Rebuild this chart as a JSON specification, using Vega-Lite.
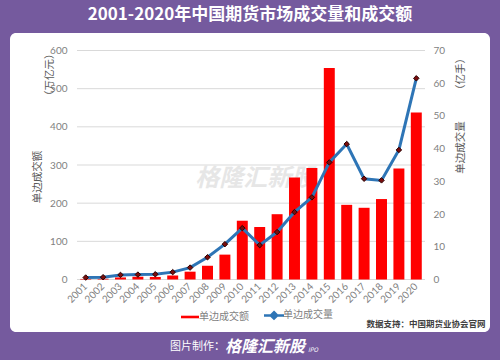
{
  "$schema": "https://vega.github.io/schema/vega-lite/v6.json",
  "width": 480,
  "height": 299,
  "autosize": {"type": "none"},
  "padding": {"left": 10, "top": 33, "right": 10, "bottom": 28},
  "background": "#755a9e",
  "view": {"fill": "#ffffff", "stroke": null, "cornerRadius": 6},
  "title": {
    "text": "2001-2020年中国期货市场成交量和成交额",
    "fontSize": 17,
    "fontWeight": "bold",
    "color": "#ffffff",
    "font": "Noto Sans CJK SC",
    "anchor": "middle",
    "offset": 9
  },
  "config": {
    "font": "Noto Sans CJK SC",
    "axis": {"labelFont": "Lato", "labelColor": "#7f7f7f", "labelFontSize": 10, "ticks": false, "domain": false, "grid": false}
  },
  "data": {
    "values": [
      {"year": "2001", "amount": 1.5, "volume": 0.6},
      {"year": "2002", "amount": 2.0, "volume": 0.7},
      {"year": "2003", "amount": 5.4, "volume": 1.4},
      {"year": "2004", "amount": 7.3, "volume": 1.5},
      {"year": "2005", "amount": 6.7, "volume": 1.6},
      {"year": "2006", "amount": 10.5, "volume": 2.25},
      {"year": "2007", "amount": 20.5, "volume": 3.64},
      {"year": "2008", "amount": 36.0, "volume": 6.8},
      {"year": "2009", "amount": 65.2, "volume": 10.8},
      {"year": "2010", "amount": 154.0, "volume": 15.7},
      {"year": "2011", "amount": 137.5, "volume": 10.5},
      {"year": "2012", "amount": 171.1, "volume": 14.5},
      {"year": "2013", "amount": 267.5, "volume": 20.6},
      {"year": "2014", "amount": 292.0, "volume": 25.1},
      {"year": "2015", "amount": 554.2, "volume": 35.8},
      {"year": "2016", "amount": 195.6, "volume": 41.4},
      {"year": "2017", "amount": 187.9, "volume": 30.8},
      {"year": "2018", "amount": 210.8, "volume": 30.3},
      {"year": "2019", "amount": 290.6, "volume": 39.6},
      {"year": "2020", "amount": 437.5, "volume": 61.5}
    ]
  },
  "layer": [
    {
      "layer": [
        {
          "data": {"values": [{"gridValue": 0}, {"gridValue": 100}, {"gridValue": 200}, {"gridValue": 300}, {"gridValue": 400}, {"gridValue": 500}, {"gridValue": 600}]},
          "mark": {"type": "rule", "color": "#d9d9d9", "strokeWidth": 1},
          "encoding": {
            "y": {"field": "gridValue", "type": "quantitative", "scale": {"domain": [-137.55, 645.85], "nice": false, "zero": false}},
            "x": {"datum": "2001", "type": "nominal", "bandPosition": -0.294, "scale": {"type": "band", "range": [67, 415], "paddingInner": 0.37, "paddingOuter": 0.185}},
            "x2": {"datum": "2020", "bandPosition": 1.294}
          }
        },
        {
          "data": {"values": [{}]},
          "mark": {"type": "text", "text": "格隆汇新股", "fontSize": 24, "fontWeight": "bold", "fontStyle": "italic", "color": "#e6e6e6", "align": "center", "baseline": "middle"},
          "encoding": {
            "x": {"datum": "2011", "type": "nominal", "bandPosition": 0.1, "scale": {"type": "band", "range": [67, 415], "paddingInner": 0.37, "paddingOuter": 0.185}},
            "y": {"datum": 263, "type": "quantitative", "scale": {"domain": [-137.55, 645.85], "nice": false, "zero": false}}
          }
        },
        {
          "mark": {"type": "bar"},
          "encoding": {
            "x": {
              "field": "year",
              "type": "nominal",
              "scale": {"type": "band", "range": [67, 415], "paddingInner": 0.37, "paddingOuter": 0.185},
              "axis": {
                "offset": -52.5,
                "labelAngle": -45,
                "labelAlign": "right",
                "labelBaseline": "middle",
                "labelPadding": 5,
                "title": "数据支持：中国期货业协会官网",
                "titleFontSize": 8.5,
                "titleFontWeight": "bold",
                "titleColor": "#404040",
                "titleX": 475,
                "titleY": 43.5,
                "titleAlign": "right",
                "titleBaseline": "middle"
              }
            },
            "y": {
              "field": "amount",
              "type": "quantitative",
              "scale": {"domain": [-137.55, 645.85], "nice": false, "zero": false},
              "axis": {
                "orient": "left",
                "offset": -66,
                "values": [0, 100, 200, 300, 400, 500, 600],
                "labelPadding": 9,
                "title": ["单边成交额　　　　　　　　　　​", "​　　　　　　　　　　（万亿元）"],
                "titleFontSize": 10.5,
                "titleFontWeight": "normal",
                "titleColor": "#595959",
                "titleLineHeight": 11.5,
                "titleAngle": -90,
                "titleX": -38.5,
                "titleY": 91,
                "titleAlign": "center",
                "titleBaseline": "middle"
              }
            },
            "color": {
              "datum": "单边成交额",
              "type": "nominal",
              "scale": {"domain": ["单边成交额", "单边成交量"], "range": ["#ff0000", "#2e75b6"]},
              "legend": {
                "orient": "none",
                "legendX": 175,
                "legendY": 277,
                "direction": "horizontal",
                "title": null,
                "padding": 0,
                "symbolSize": 400,
                "labelOffset": 4,
                "columnPadding": 10,
                "labelFontSize": 10,
                "labelColor": "#7f7f7f",
                "encode": {
                  "symbols": {
                    "update": {
                      "shape": {"signal": "datum.value === '单边成交额' ? 'M-0.9,-0.13H0.9V0.13H-0.9Z' : 'M-1,0H1M0,-0.32L0.32,0L0,0.32L-0.32,0Z'"},
                      "fill": {"signal": "datum.value === '单边成交额' ? '#ff0000' : '#7a0c0c'"},
                      "stroke": {"signal": "datum.value === '单边成交额' ? '#ff0000' : '#2e75b6'"},
                      "strokeWidth": {"signal": "datum.value === '单边成交额' ? 0 : 2.5"},
                      "opacity": {"value": 1},
                      "fillOpacity": {"value": 1}
                    }
                  }
                }
              }
            }
          }
        },
        {
          "data": {"values": [{}]},
          "mark": {"type": "text", "text": "图片制作：", "fontSize": 11, "color": "#ffffff", "align": "right", "baseline": "middle"},
          "encoding": {
            "x": {"datum": "2009", "type": "nominal", "bandPosition": 0.51, "scale": {"type": "band", "range": [67, 415], "paddingInner": 0.37, "paddingOuter": 0.185}},
            "y": {"datum": -176.9, "type": "quantitative", "scale": {"domain": [-137.55, 645.85], "nice": false, "zero": false}}
          }
        },
        {
          "data": {"values": [{}]},
          "mark": {"type": "text", "text": "格隆汇新股", "fontSize": 16, "fontWeight": "bold", "fontStyle": "italic", "color": "#ffffff", "align": "left", "baseline": "middle"},
          "encoding": {
            "x": {"datum": "2009", "type": "nominal", "bandPosition": 0.51, "scale": {"type": "band", "range": [67, 415], "paddingInner": 0.37, "paddingOuter": 0.185}},
            "y": {"datum": -176.9, "type": "quantitative", "scale": {"domain": [-137.55, 645.85], "nice": false, "zero": false}}
          }
        },
        {
          "data": {"values": [{}]},
          "mark": {"type": "text", "text": "IPO", "fontSize": 6, "fontStyle": "italic", "color": "#ffffff", "align": "left", "baseline": "middle"},
          "encoding": {
            "x": {"datum": "2014", "type": "nominal", "bandPosition": 0.15, "scale": {"type": "band", "range": [67, 415], "paddingInner": 0.37, "paddingOuter": 0.185}},
            "y": {"datum": -185, "type": "quantitative", "scale": {"domain": [-137.55, 645.85], "nice": false, "zero": false}}
          }
        }
      ]
    },
    {
      "layer": [
        {
          "mark": {"type": "line", "strokeWidth": 3},
          "encoding": {
            "x": {"field": "year", "type": "nominal", "scale": {"type": "band", "range": [67, 415], "paddingInner": 0.37, "paddingOuter": 0.185}},
            "y": {
              "field": "volume",
              "type": "quantitative",
              "scale": {"domain": [-16.05, 75.35], "nice": false, "zero": false},
              "axis": {
                "orient": "right",
                "offset": -66,
                "values": [0, 10, 20, 30, 40, 50, 60, 70],
                "labelPadding": 9,
                "title": "单边成交量　　　（亿手）",
                "titleFontSize": 10.5,
                "titleFontWeight": "normal",
                "titleColor": "#595959",
                "titleAngle": -90,
                "titleX": 36,
                "titleY": 79.75,
                "titleAlign": "center",
                "titleBaseline": "middle"
              }
            },
            "color": {"datum": "单边成交量", "type": "nominal"}
          }
        },
        {
          "mark": {"type": "point", "shape": "diamond", "filled": true, "size": 30, "fill": "#7a0c0c", "stroke": "#2b0000", "strokeWidth": 1, "opacity": 1},
          "encoding": {
            "x": {"field": "year", "type": "nominal", "scale": {"type": "band", "range": [67, 415], "paddingInner": 0.37, "paddingOuter": 0.185}},
            "y": {"field": "volume", "type": "quantitative", "scale": {"domain": [-16.05, 75.35], "nice": false, "zero": false}}
          }
        }
      ]
    }
  ],
  "resolve": {"scale": {"y": "independent"}, "axis": {"y": "independent"}}
}
